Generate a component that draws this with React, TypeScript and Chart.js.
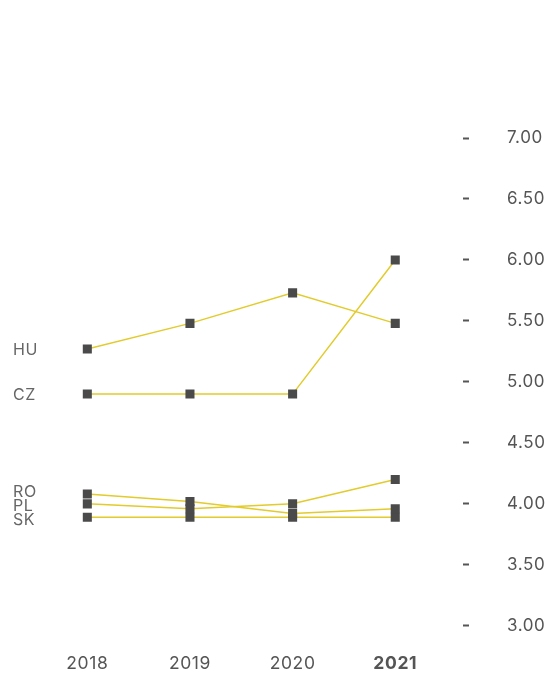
import React, { useEffect, useRef } from "react";
import { Chart, registerables } from "chart.js";

Chart.register(...registerables);

const years = [2018, 2019, 2020, 2021];
const countries = ["HU", "CZ", "RO", "PL", "SK"];
const huValues = [5.27, 5.48, 5.73, 5.48];
const czValues = [4.9, 4.9, 4.9, 6.0];
const roValues = [4.08, 4.02, 3.92, 3.96];
const plValues = [4.0, 3.96, 4.0, 4.2];
const skValues = [3.89, 3.89, 3.89, 3.89];
const seriesValues = [huValues, czValues, roValues, plValues, skValues];
const yTicks = [3.0, 3.5, 4.0, 4.5, 5.0, 5.5, 6.0, 6.5, 7.0];
const boldYear = 2021;

const LINE = "#e2cb2c";
const MARK = "#4a4a4a";
const FONT = "Inter, 'Noto Sans', sans-serif";
const SPACING = "0.6px";

const spacingPlugin = {
  id: "letterSpacing",
  beforeLayout(chart: any) {
    chart.ctx.letterSpacing = SPACING;
  },
  beforeDraw(chart: any) {
    chart.ctx.letterSpacing = SPACING;
  },
};

const labelPlugin = {
  id: "seriesLabels",
  afterDatasetsDraw(chart: any) {
    const ctx = chart.ctx;
    const items = chart.data.datasets.map((ds: any, i: number) => {
      const meta = chart.getDatasetMeta(i);
      return { text: ds.label, y: meta.data[0].y };
    });
    items.sort((a: any, b: any) => a.y - b.y);
    const gap = 14;
    const clusters: any[] = [];
    items.forEach((it: any) => {
      const last = clusters[clusters.length - 1];
      if (last && it.y - last[last.length - 1].y < gap) last.push(it);
      else clusters.push([it]);
    });
    ctx.save();
    ctx.font = "16px " + FONT;
    ctx.fillStyle = "#666666";
    ctx.textAlign = "left";
    ctx.textBaseline = "middle";
    clusters.forEach((c: any[]) => {
      const mean = c.reduce((s, it) => s + it.y, 0) / c.length;
      c.forEach((it, k) => {
        const y = mean + (k - (c.length - 1) / 2) * gap;
        ctx.fillText(it.text, 13, y + 1);
      });
    });
    ctx.restore();
  },
};

export default function App() {
  const ref = useRef<HTMLCanvasElement>(null);
  useEffect(() => {
    if (!ref.current) return;
    const chart = new Chart(ref.current, {
      type: "line",
      data: {
        datasets: countries.map((c, i) => ({
          label: c,
          data: years.map((yr, j) => ({ x: yr, y: seriesValues[i][j] })),
          borderColor: LINE,
          borderWidth: 1.5,
          backgroundColor: MARK,
          pointStyle: "rect",
          pointRadius: 6.4,
          pointBorderWidth: 0,
          pointBackgroundColor: MARK,
          fill: false,
          tension: 0,
        })),
      },
      options: {
        animation: false,
        responsive: false,
        maintainAspectRatio: false,
        layout: { padding: { top: 138, left: 36, right: 0, bottom: 0 } },
        plugins: { legend: { display: false }, tooltip: { enabled: false } },
        scales: {
          x: {
            type: "linear",
            min: 2017.5,
            max: 2021.66,
            afterBuildTicks: (s: any) => {
              s.ticks = years.map((v) => ({ value: v }));
            },
            afterFit: (s: any) => {
              s.height = 48;
            },
            grid: { display: false },
            border: { display: false },
            ticks: {
              padding: 19,
              color: "#555555",
              font: (ctx: any) => ({
                family: FONT,
                size: 17.5,
                weight: ctx.tick && ctx.tick.value === boldYear ? "bold" : "normal",
              }),
              callback: (v: any) => String(v),
            },
          },
          y: {
            position: "right",
            min: 3,
            max: 7,
            afterBuildTicks: (s: any) => {
              s.ticks = yTicks.map((v) => ({ value: v }));
            },
            afterFit: (s: any) => {
              s.width = 90;
            },
            grid: {
              drawOnChartArea: false,
              drawTicks: true,
              tickLength: 6,
              tickWidth: 2,
              tickColor: "#555555",
            },
            border: { display: false },
            ticks: {
              padding: 38,
              color: "#555555",
              font: { family: FONT, size: 17 },
              callback: (v: any) => Number(v).toFixed(2),
            },
          },
        },
      },
      plugins: [spacingPlugin, labelPlugin],
    });
    return () => chart.destroy();
  }, []);
  return (
    <div style={{ position: "fixed", left: 0, top: 0, width: 553, height: 674, background: "#fff" }}>
      <canvas ref={ref} width={553} height={674} style={{ width: 553, height: 674 }} />
    </div>
  );
}
